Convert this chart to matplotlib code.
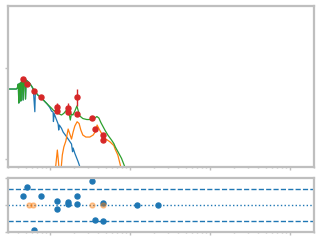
import numpy as np
import matplotlib
matplotlib.use("Agg")
import matplotlib.pyplot as plt

# log10 wavelength / log10 flux
total_lx = [-0.531, -0.419, -0.406, -0.394, -0.388, -0.381, -0.369, -0.363, -0.356, -0.344,
            -0.334, -0.325, -0.313, -0.304, -0.296, -0.275, -0.25, -0.225, -0.2, -0.175,
            -0.15, -0.113, -0.075, -0.038, 0.0, 0.025, 0.041, 0.063, 0.088, 0.104,
            0.146, 0.175, 0.209, 0.221, 0.238, 0.256, 0.269, 0.288, 0.313, 0.338,
            0.356, 0.375, 0.413, 0.463, 0.525, 0.563, 0.588, 0.613, 0.638, 0.688,
            0.725, 0.771, 0.8, 0.819, 0.85, 0.896, 0.938, 0.95]
total_ly = [-11.615, -11.615, -11.538, -11.231, -12.692, -11.231, -11.154, -12.538, -11.077, -10.923,
            -12.462, -10.923, -10.885, -12.385, -10.923, -11.038, -11.192, -11.423, -11.654, -11.885,
            -12.077, -12.269, -12.5, -12.731, -12.962, -13.115, -13.231, -13.308, -13.462, -13.485,
            -13.615, -13.485, -13.231, -13.154, -13.385, -14.0, -13.538, -13.615, -13.308, -12.923,
            -13.308, -13.692, -13.885, -13.962, -13.962, -13.846, -13.731, -13.846, -14.192, -14.769,
            -15.154, -15.538, -15.808, -16.077, -16.423, -16.946, -17.615, -18.0]

stars_lx = [-0.531, -0.419, -0.406, -0.394, -0.388, -0.381, -0.369, -0.363, -0.356, -0.344,
            -0.334, -0.325, -0.313, -0.304, -0.296, -0.275, -0.25, -0.225, -0.206, -0.1875,
            -0.181, -0.175, -0.15, -0.113, -0.075, -0.038, 0.0, 0.021, 0.041, 0.045,
            0.054, 0.075, 0.104, 0.111, 0.119, 0.146, 0.166, 0.209, 0.2375, 0.271,
            0.284, 0.291, 0.3125, 0.354, 0.375, 0.3875]
stars_ly = [-11.615, -11.615, -11.538, -11.231, -12.692, -11.231, -11.154, -12.538, -11.077, -10.923,
            -12.462, -10.923, -10.885, -12.385, -10.923, -11.038, -11.192, -11.423, -11.692, -13.362,
            -11.769, -11.885, -12.077, -12.269, -12.5, -12.731, -13.038, -13.308, -13.385, -14.115,
            -13.5, -13.846, -14.308, -14.769, -14.385, -14.638, -14.923, -15.285, -15.538, -15.846,
            -16.438, -16.154, -16.562, -17.208, -17.592, -17.846]

dust_lx = [0.056, 0.075, 0.094, 0.106, 0.116, 0.1375, 0.156, 0.175, 0.2, 0.229,
           0.25, 0.271, 0.291, 0.3125, 0.341, 0.366, 0.3875, 0.4125, 0.45, 0.5,
           0.541, 0.571, 0.591, 0.6125, 0.646, 0.6875, 0.75, 0.8, 0.816, 0.85,
           0.8875, 0.9]
dust_ly = [-18.231, -17.462, -16.308, -17.077, -17.846, -18.0, -16.692, -16.077, -15.615, -14.692,
           -15.077, -15.462, -14.923, -14.462, -14.131, -14.269, -14.769, -15.154, -15.308, -15.308,
           -15.154, -14.885, -14.385, -14.654, -15.023, -15.408, -15.669, -15.962, -16.231, -16.692,
           -17.615, -18.0]

obs_lx = [-0.341, -0.284, -0.196, -0.109, 0.091, 0.091, 0.221, 0.221,
          0.341, 0.341, 0.529, 0.559, 0.666, 0.659, 1.091, 1.354]
obs_ly = [-10.846, -11.254, -11.769, -12.254, -13.023, -13.308, -13.1, -13.362,
          -12.254, -13.538, -13.869, -14.669, -15.177, -15.562, -19.5, -19.8]
obs_err = [0.03, 0.03, 0.03, 0.03, 0.35, 0.15, 0.42, 0.2,
           0.67, 0.03, 0.03, 0.03, 0.03, 0.03, 0.1, 0.1]
resid = [1.67, 3.28, -4.69, 1.67, 0.74, -0.8, 0.5, 0.13,
         1.67, 0.13, 4.39, -2.83, 0.31, -3.0, -0.05, -0.05]

lim_lx = [-0.259, -0.209, 0.529, 0.666]
lim_res = [0, 0, 0, 0]

wl = lambda a: 10 ** np.asarray(a)
obs_x = wl(obs_lx)
obs_y = wl(obs_ly)
err = np.asarray(obs_err)
yerr = [obs_y - obs_y * 10 ** -err, obs_y * 10 ** err - obs_y]

grey = "#bfbfbf"
fig = plt.figure(figsize=(3.2, 2.4), dpi=100)
ax = fig.add_axes([0.025, 0.304, 0.956, 0.671])
rx = fig.add_axes([0.025, 0.033, 0.956, 0.225])

ax.plot(wl(stars_lx), wl(stars_ly), color="C0", lw=0.9)
ax.plot(wl(dust_lx), wl(dust_ly), color="C1", lw=0.9)
ax.plot(wl(total_lx), wl(total_ly), color="C2", lw=0.9)
ax.errorbar(obs_x, obs_y, yerr=yerr, fmt="o", color="C3", ms=3.6, lw=1, zorder=5)

rx.axhline(0, color="C0", ls=":", lw=1)
rx.axhline(3, color="C0", ls="--", lw=1)
rx.axhline(-3, color="C0", ls="--", lw=1)
rx.plot(obs_x, resid, "o", color="C0", ms=3.6)
rx.plot(wl(lim_lx), lim_res, "o", color="C1", ms=3.6, alpha=0.4)

for a in (ax, rx):
    a.set_xscale("log")
    a.set_xlim(0.3, 2000)
    a.set_xticks([1, 10, 100, 1000])
    for s in a.spines.values():
        s.set_color(grey)
        s.set_linewidth(1.6)
    a.tick_params(which="both", colors=grey, labelbottom=False, labelleft=False)
    a.tick_params(which="major", length=2, width=1)
    a.tick_params(which="minor", length=1, width=1)

ax.set_yscale("log")
ax.set_ylim(10 ** -17.615, 10 ** -5.23)
ax.set_yticks([1e-17, 1e-10])
ax.set_yticks([10.0 ** k for k in range(-17, -5)], minor=True)
rx.set_ylim(-5, 5)
rx.set_yticks([-5, 0, 5])

fig.savefig("out.png", dpi=100)
